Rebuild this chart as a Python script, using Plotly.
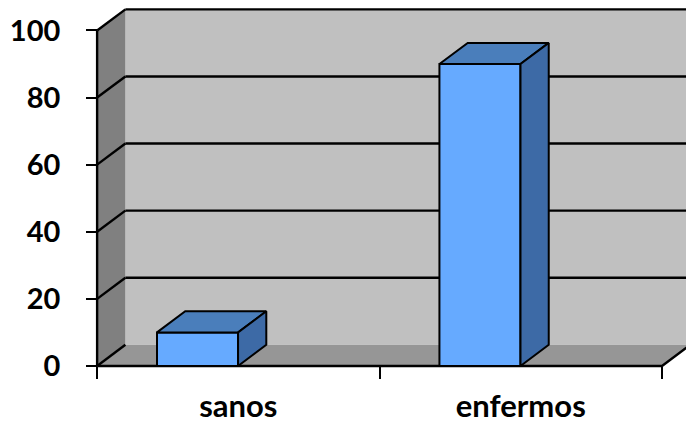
import plotly.graph_objects as go

# ---- data ----
categories = ["sanos", "enfermos"]
values = [10, 90]
y_ticks = [0, 20, 40, 60, 80, 100]
y_tick_labels = ["0", "20", "40", "60", "80", "100"]

# ---- 3D styling constants (in axis units) ----
DX = 0.1      # depth offset along x
DY = 6.3      # depth offset along y
BAR_L = 0.212 # front face left offset within category slot
BAR_W = 0.287 # front face width
YMAX = 100
NCAT = len(categories)

WALL_BACK = "#c0c0c0"
WALL_LEFT = "#808080"
FLOOR = "#969696"
BAR_FRONT = "#66aaff"
BAR_TOP = "#4a7ebb"
BAR_SIDE = "#3d6aa6"

fig = go.Figure()

def poly(xs, ys, fill, lw=0, lc="black"):
    fig.add_trace(go.Scatter(x=xs + [xs[0]], y=ys + [ys[0]], mode="lines",
                             fill="toself", fillcolor=fill,
                             line=dict(color=lc, width=lw),
                             hoverinfo="skip", showlegend=False))

def seg(xs, ys, lw=2.4):
    fig.add_trace(go.Scatter(x=xs, y=ys, mode="lines",
                             line=dict(color="black", width=lw),
                             hoverinfo="skip", showlegend=False))

# back wall
poly([DX, NCAT + DX + 0.2, NCAT + DX + 0.2, DX], [DY, DY, YMAX + DY, YMAX + DY], WALL_BACK)
# left wall
poly([0, DX, DX, 0], [0, DY, YMAX + DY, YMAX], WALL_LEFT)
# floor
poly([0, NCAT, NCAT + DX, DX], [0, 0, DY, DY], FLOOR)

# gridlines on walls
for v in y_ticks:
    seg([0, DX], [v, v + DY])
    if v > 0:
        seg([DX, NCAT + DX + 0.2], [v + DY, v + DY])

# floor front edge + right edge, left front edge
seg([0, NCAT, NCAT + DX], [0, 0, DY])
seg([0, 0], [0, YMAX])

# bars
for i, v in enumerate(values):
    L = i + BAR_L
    R = L + BAR_W
    poly([L, R, R, L], [0, 0, v, v], BAR_FRONT, 2)
    poly([L, R, R + DX, L + DX], [v, v, v + DY, v + DY], BAR_TOP, 2)
    poly([R, R + DX, R + DX, R], [0, DY, v + DY, v], BAR_SIDE, 2)

XR = [-0.05, 2.085]
YR = [-3, 107]
yfont = dict(family="Lato", size=29, color="black", weight="bold")
xfont = dict(family="Lato", size=31, color="black", weight="bold")

fig.update_layout(
    width=686, height=426,
    margin=dict(l=83, r=0, t=7, b=50, autoexpand=False),
    paper_bgcolor="white", plot_bgcolor="white",
    xaxis=dict(range=XR, tickvals=list(range(NCAT + 1)),
               ticktext=[""] * (NCAT + 1), ticks="outside", ticklen=12,
               tickwidth=2, tickcolor="black", showgrid=False, zeroline=False,
               showline=False, anchor="free", automargin=False,
               position=(0 - YR[0]) / (YR[1] - YR[0])),
    xaxis2=dict(range=XR, overlaying="x", side="bottom",
                tickvals=[i + 0.5 for i in range(NCAT)], ticktext=categories,
                ticks="", showgrid=False, zeroline=False, showline=False,
                anchor="free", position=(0 - YR[0]) / (YR[1] - YR[0]),
                automargin=False, tickfont=xfont, ticklabelstandoff=19),
    yaxis=dict(range=YR, tickvals=y_ticks, ticktext=y_tick_labels,
               ticks="outside", ticklen=11, tickwidth=2, tickcolor="black",
               showgrid=False, zeroline=False, showline=False,
               anchor="free", position=(0 - XR[0]) / (XR[1] - XR[0]),
               automargin=False, tickfont=yfont, ticklabelstandoff=20),
)
# dummy trace to activate xaxis2
fig.add_trace(go.Scatter(x=[0.5], y=[0], xaxis="x2", mode="markers",
                         marker=dict(opacity=0), hoverinfo="skip", showlegend=False))

fig.write_html("out.html")
